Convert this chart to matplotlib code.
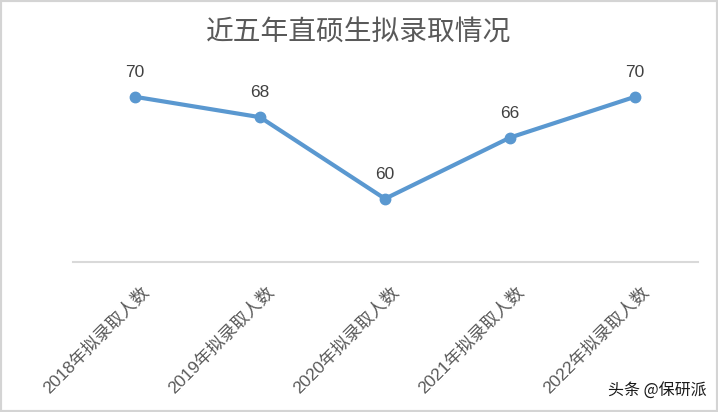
import matplotlib
matplotlib.use("Agg")
import matplotlib.pyplot as plt
import matplotlib.transforms as mtransforms
from matplotlib.patches import Rectangle

plt.rcParams['font.family'] = ['Liberation Sans', 'Noto Sans CJK SC', 'DejaVu Sans']

categories = ['2018年拟录取人数', '2019年拟录取人数', '2020年拟录取人数',
              '2021年拟录取人数', '2022年拟录取人数']
values = [70, 68, 60, 66, 70]
title = '近五年直硕生拟录取情况'
watermark = '头条 @保研派'

W, H = 718, 412
fig = plt.figure(figsize=(W / 100, H / 100), dpi=100)
ax = fig.add_axes([72.5 / W, 1 - 262 / H, 625 / W, (262 - 76.4) / H])

x = list(range(len(values)))
line_color = '#5a98d0'
ax.plot(x, values, color=line_color, lw=3, marker='o', ms=7.5,
        solid_capstyle='round', zorder=3)
for xi, v in zip(x, values):
    ax.annotate(str(v), (xi, v), xytext=(0, 17.5), textcoords='offset points',
                ha='center', va='center', fontsize=12.5, color='#404040')

ax.set_xlim(-0.5, len(values) - 0.5)
ax.set_ylim(53.8, 72)
ax.set_yticks([])
for s in ['top', 'left', 'right']:
    ax.spines[s].set_visible(False)
ax.spines['bottom'].set_color('#d9d9d9')
ax.spines['bottom'].set_linewidth(1.5)

ax.set_xticks(x)
ax.set_xticklabels(categories, rotation=45, ha='right', va='center',
                   rotation_mode='anchor', fontsize=12.5, color='#595959')
ax.tick_params(axis='x', length=0, pad=0)
offset = mtransforms.ScaledTranslation(12 / 100, -28 / 100, fig.dpi_scale_trans)
for lab in ax.get_xticklabels():
    lab.set_transform(lab.get_transform() + offset)

fig.text(359 / W, 1 - 33 / H, title, ha='center', va='center', fontsize=20,
         color='#595959', family=['Noto Sans CJK SC'], fontweight='light')

fig.text(707 / W, 1 - 390 / H, watermark, ha='right', va='center', fontsize=11.5,
         color='#1a1a1a', family=['Noto Sans CJK SC', 'DejaVu Sans'])

fig.patches.append(Rectangle((0, 0), 1, 1, transform=fig.transFigure,
                             fill=False, edgecolor='#d4d4d4', lw=3))

fig.savefig('out.png', dpi=100)
